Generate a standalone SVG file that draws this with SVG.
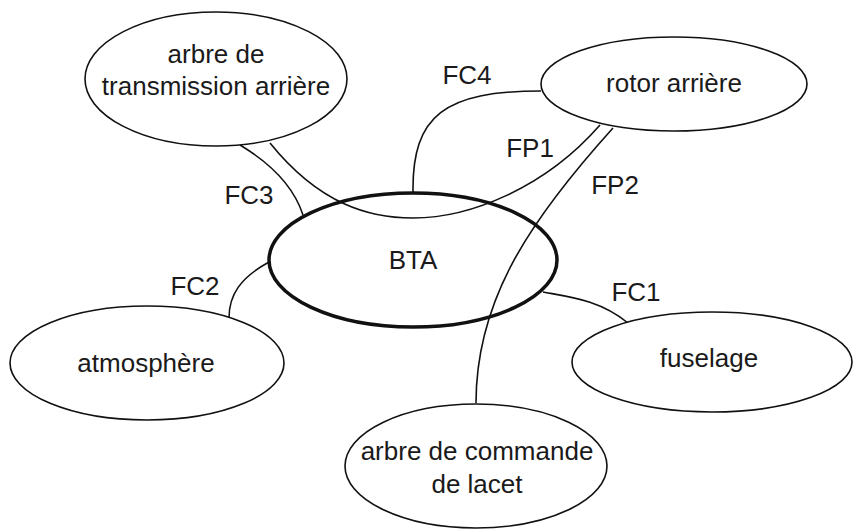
<svg xmlns="http://www.w3.org/2000/svg" width="855" height="529" viewBox="0 0 855 529">
<style>
.n{fill:#fff;stroke:#111;stroke-width:1.6}
.main{fill:none;stroke:#111;stroke-width:3.5}
.c{fill:none;stroke:#111;stroke-width:1.6}
text{font-family:"Liberation Sans",Arial,sans-serif;font-size:26px;fill:#1a1a1a;text-anchor:middle}
</style>
<rect width="855" height="529" fill="#fff"/>
<g id="connectors">
<path class="c" d="M413,192 C412,115 445,91 541,91"/>
<path class="c" d="M270,143 C320,205 370,218 413,218 C470,218 545,188 600,125"/>
<path class="c" d="M613,128 C530,220 476,300 476,403"/>
<path class="c" d="M240,145 Q290,175 303,215"/>
<path class="c" d="M269,262 C240,278 229,295 229,318"/>
<path class="c" d="M543,292 C570,297 600,300 628,323"/>
</g>
<g id="labels">
<text x="467" y="84">FC4</text>
<text x="530" y="157">FP1</text>
<text x="615" y="194">FP2</text>
<text x="249" y="204">FC3</text>
<text x="195" y="295">FC2</text>
<text x="636" y="301">FC1</text>
</g>
<g id="n-bta">
<ellipse class="main" cx="413" cy="260" rx="144" ry="67"/>
<text x="413" y="269">BTA</text>
</g>
<g id="n-arbre-transmission">
<ellipse class="n" cx="216" cy="79" rx="131" ry="67"/>
<text x="216" y="63">arbre de</text>
<text x="216" y="95">transmission arrière</text>
</g>
<g id="n-rotor">
<ellipse class="n" cx="674" cy="84" rx="133" ry="47"/>
<text x="674" y="92">rotor arrière</text>
</g>
<g id="n-atmosphere">
<ellipse class="n" cx="147" cy="363" rx="137" ry="57"/>
<text x="146" y="372">atmosphère</text>
</g>
<g id="n-fuselage">
<ellipse class="n" cx="712" cy="362" rx="140" ry="50"/>
<text x="709" y="367">fuselage</text>
</g>
<g id="n-commande">
<ellipse class="n" cx="476" cy="466" rx="131" ry="62"/>
<text x="477" y="460">arbre de commande</text>
<text x="477" y="493">de lacet</text>
</g>
</svg>
